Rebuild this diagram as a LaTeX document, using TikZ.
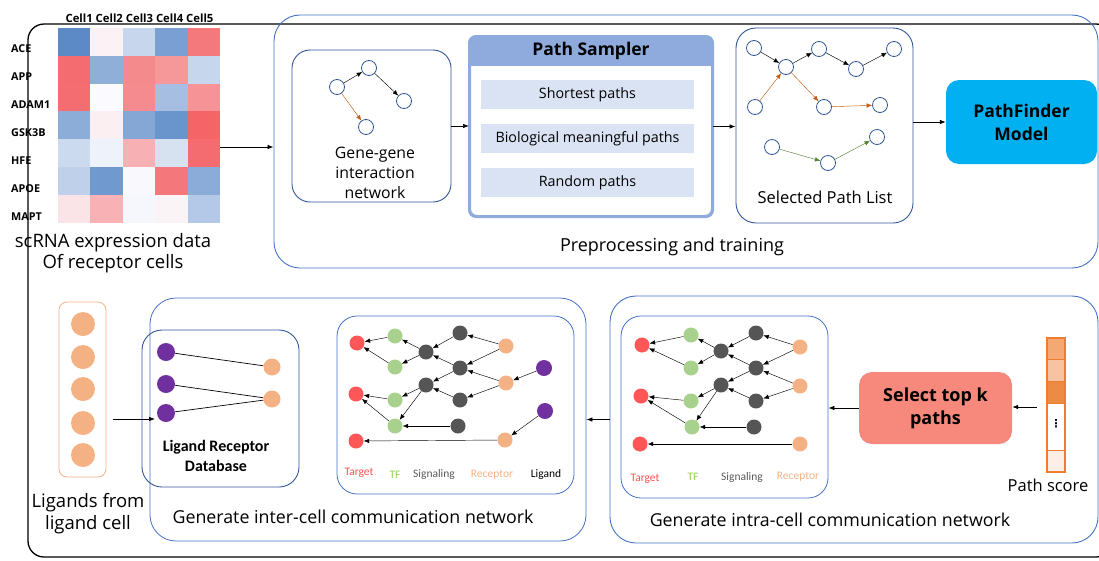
\documentclass[tikz,border=0pt]{standalone}
\usepackage{fontspec}
\setmainfont{Open Sans}
\newfontfamily\calib{Carlito}
\newfontfamily\dejavu{DejaVu Sans}
\usetikzlibrary{arrows.meta}
\newcommand\fsz[2]{\fontsize{#1}{#2}\selectfont}
\definecolor{bbox}{HTML}{4472C4}
\definecolor{dbox}{HTML}{2F5597}
\definecolor{psb}{HTML}{8FAADC}
\definecolor{psrow}{HTML}{DAE3F3}
\definecolor{pfc}{HTML}{00B0F0}
\definecolor{selc}{HTML}{F6897B}
\definecolor{orn}{HTML}{F4B183}
\definecolor{redn}{HTML}{FF5757}
\definecolor{grn}{HTML}{A9D18E}
\definecolor{gryn}{HTML}{555555}
\definecolor{purn}{HTML}{7030A0}
\definecolor{oedge}{HTML}{C55A11}
\definecolor{gedge}{HTML}{548235}
\definecolor{psc}{HTML}{ED7D31}
\definecolor{ps1}{HTML}{F4A873}
\definecolor{ps2}{HTML}{F7C3A0}
\definecolor{ps3}{HTML}{ED8B45}
\definecolor{ps5}{HTML}{FDEEE6}
\definecolor{redt}{HTML}{FF5050}
\definecolor{grnt}{HTML}{92D050}
\definecolor{grayt}{HTML}{595959}
\definecolor{ornt}{HTML}{F4B183}
\tikzset{
  arr/.style={-{Latex[length=6pt,width=4.5pt]}, line width=0.7pt},
  net/.style={-{Latex[length=5.5pt,width=4.5pt]}, line width=0.45pt},
  wnode/.style={circle, draw=dbox, fill=white, line width=0.8pt, minimum size=15pt, inner sep=0pt},
  nn/.style={circle, inner sep=0pt, minimum size=15pt},
  tgt/.style={nn, fill=redn},
  tf/.style={nn, fill=grn},
  sig/.style={nn, fill=gryn},
  rec/.style={nn, fill=orn},
  lgd/.style={nn, fill=purn, minimum size=16pt},
  rbox/.style={draw, inner sep=0pt},
  legend/.style={font=\calib\fsz{11.5}{13}},
  rowtxt/.style={fill=psrow, minimum width=213pt, minimum height=29pt, inner sep=0pt, font=\fsz{14.3}{16}},
}
\newcommand\netedges[1]{%
  \foreach \a/\b in {F1/T1,F2/T1,S2/F1,S2/F2,S1/S2,R1/S1,R1/S3,S3/S2,R2/S3,R2/S5,S3/S4,S5/S4,S4/F3,S4/F4,F3/T2,F4/T2,S6/F4,R3/T3}
    \draw[net] (#1\a) -- (#1\b);%
}
\begin{document}
\begin{tikzpicture}[x=1pt,y=-1pt]
\useasboundingbox (0,0) rectangle (1099,560);
\begin{scope}
\clip (0,0) rectangle (1099,560);
\draw[line width=1.3pt, rounded corners=16pt] (28,24) rectangle (1112,557);
\node[rbox, draw=bbox, line width=0.9pt, rounded corners=26pt, minimum width=824pt, minimum height=253pt] (prep) at (686,141.5) {};
\node[rbox, draw=bbox, line width=0.9pt, rounded corners=26pt, minimum width=488pt, minimum height=247pt] (iao) at (854,419.5) {};
\end{scope}

% heatmap
\foreach \c [count=\i from 0] in {5B8AC6,FCF1F4,C7D6EC,7AA0D3,F4797C,
  F46C70,8FAFD9,F58A8D,F6979A,C6D6EC,
  F46D71,FBFAFE,F58B8E,A5BEE1,F59396,
  8CADD8,FCEFF2,84A7D5,6A95CC,F56568,
  CBDAEE,EEF2FA,F7B1B4,D7E2F1,F46C70,
  BFD1EA,6F99CF,F8F8FD,F4777B,8BACD8,
  FBE4E8,F8B1B5,F6F7FD,FBF4F7,B4C9E7} {
  \pgfmathtruncatemacro\row{floor(\i/5)}
  \pgfmathtruncatemacro\col{mod(\i,5)}
  \definecolor{hc}{HTML}{\c}
  \fill[hc] (58+\col*32.4, 28+\row*27.8) rectangle ++(32.6,28);
}
\node[inner sep=0pt, minimum width=162pt, minimum height=195pt, anchor=north west] (heat) at (58,28) {};
\node[font=\bfseries\fsz{11.3}{13}] (cells) at (139.5,18) {Cell1 Cell2 Cell3 Cell4 Cell5};
\foreach \g [count=\i from 0] in {ACE,APP,ADAM1,GSK3B,HFE,APOE,MAPT}
  \node[anchor=west, inner sep=0pt, font=\bfseries\fsz{10.8}{13}] (g\i) at (11,49+28*\i) {\g};
\node[align=center, font=\fsz{18.5}{21}] (scrna) at (113,253.5) {scRNA expression data\\Of receptor cells};
\coordinate (hout) at (220,147);
\draw[arr] (hout) -- (hout -| prep.west);

% gene-gene box
\node[rbox, draw=dbox, line width=0.9pt, rounded corners=18pt, minimum width=159pt, minimum height=152pt] (gg) at (371.5,126) {};
\node[wnode] (ga) at (337,87) {};
\node[wnode] (gb) at (369,68) {};
\node[wnode] (gc) at (404,101) {};
\node[wnode] (gd) at (366,127) {};
\draw[net] (ga) -- (gb);
\draw[net] (gb) -- (gc);
\draw[net, draw=oedge, -{Latex[length=5.5pt,width=4.5pt,fill=oedge]}] (ga) -- (gd);
\node[align=center, font=\fsz{15.8}{20}] (ggl) at (375,173) {Gene-gene\\interaction\\network};

% path sampler
\node[rbox, draw=psb, line width=2pt, rounded corners=7pt, minimum width=242pt, minimum height=179pt, fill=white] (ps) at (591,126.5) {};
\begin{scope}
\clip[rounded corners=7pt] (ps.north west) rectangle (ps.south east);
\fill[psb] (ps.north west) rectangle (ps.east |- 0,66);
\end{scope}
\draw[psb, line width=2pt, rounded corners=7pt] (ps.north west) rectangle (ps.south east);
\node[font=\bfseries\fsz{17.5}{19}] (pst) at (591,51) {Path Sampler};
\node[rowtxt] (r1) at (587.5,94.5) {Shortest paths};
\node[rowtxt] (r2) at (587.5,138.5) {Biological meaningful paths};
\node[rowtxt] (r3) at (587.5,182.5) {Random paths};
\draw[arr] (gg.east) -- (gg.east -| ps.west);

% selected path list
\node[rbox, draw=dbox, line width=0.9pt, rounded corners=20pt, minimum width=177pt, minimum height=195pt] (sp) at (824.5,125.5) {};
\node[wnode] (sa) at (754,48) {};
\node[wnode] (sb) at (786,67) {};
\node[wnode] (sc) at (819,49) {};
\node[wnode] (sd) at (856,69) {};
\node[wnode] (se) at (894,49) {};
\node[wnode] (sf) at (755,107) {};
\node[wnode] (sg) at (824,107) {};
\node[wnode] (sh) at (880,105) {};
\node[wnode] (si) at (772,147) {};
\node[wnode] (sj) at (828,163) {};
\node[wnode] (sk) at (877,137) {};
\foreach \a/\b in {sa/sb,sb/sc,sc/sd,sd/se} \draw[net] (\a) -- (\b);
\foreach \a/\b in {sf/sb,sb/sg,sg/sh} \draw[net, draw=oedge, -{Latex[length=5.5pt,width=4.5pt,fill=oedge]}] (\a) -- (\b);
\foreach \a/\b in {si/sj,sj/sk} \draw[net, draw=gedge, -{Latex[length=5.5pt,width=4.5pt,fill=gedge]}] (\a) -- (\b);
\node[font=\fsz{16.5}{18}] (spl) at (825,197) {Selected Path List};
\draw[arr] (ps.east) -- (ps.east -| sp.west);

% pathfinder
\node[rbox, draw=none, fill=pfc, rounded corners=13pt, minimum width=151pt, minimum height=84pt, align=center, font=\bfseries\fsz{17.5}{23}] (pf) at (1021.5,122) {PathFinder\\Model};
\draw[arr] (sp.east |- pf.west) -- (pf.west);
\node[font=\fsz{18}{20}] (prepl) at (672,247) {Preprocessing and training};

% ligands
\node[rbox, draw=orn, line width=0.8pt, rounded corners=8pt, minimum width=47pt, minimum height=175pt] (lig) at (82.5,389.5) {};
\foreach \y [count=\i] in {324,357,389,423,455}
  \node[nn, fill=orn, minimum size=24pt] (l\i) at (83,\y) {};
\node[align=center, font=\fsz{18.5}{22}] (ligl) at (88,514) {Ligands from\\ligand cell};

% inter-cell
\node[rbox, draw=bbox, line width=0.8pt, rounded corners=26pt, minimum width=436pt, minimum height=243pt] (io) at (368,419.5) {};
\node[rbox, draw=dbox, line width=0.9pt, rounded corners=20pt, minimum width=157pt, minimum height=157pt] (lrd) at (220.5,408.5) {};
\node[lgd, minimum size=18pt] (p1) at (166,352) {};
\node[lgd, minimum size=18pt] (p2) at (166,384) {};
\node[lgd, minimum size=18pt] (p3) at (166,413) {};
\node[nn, fill=orn, minimum size=17pt] (o1) at (272,367) {};
\node[nn, fill=orn, minimum size=17pt] (o2) at (272,399) {};
\draw[line width=0.7pt] (p1) -- (o1) (p2) -- (o2) (p3) -- (o2);
\node[align=center, font=\calib\bfseries\fsz{16}{20}] (lrdl) at (216,456) {Ligand Receptor\\Database};
\coordinate (la) at (113,419);
\coordinate (lb) at (155,419);
\draw[arr] (la) -- (lb);

\node[rbox, draw=bbox, line width=0.8pt, rounded corners=20pt, minimum width=237pt, minimum height=178pt] (inet) at (455.5,405) {};
\node[tgt] (iT1) at (357,343) {};
\node[tgt] (iT2) at (356,394) {};
\node[tgt] (iT3) at (356,441) {};
\node[tf] (iF1) at (395,336) {};
\node[tf] (iF2) at (395,367) {};
\node[tf] (iF3) at (395,400) {};
\node[tf] (iF4) at (395,426) {};
\node[sig] (iS1) at (460,333) {};
\node[sig] (iS2) at (426,352) {};
\node[sig] (iS3) at (460,368) {};
\node[sig] (iS4) at (426,385) {};
\node[sig] (iS5) at (460,400) {};
\node[sig] (iS6) at (458,426) {};
\node[rec] (iR1) at (506,346) {};
\node[rec] (iR2) at (506,383) {};
\node[rec] (iR3) at (505,440) {};
\node[lgd] (iL1) at (544,368) {};
\node[lgd] (iL2) at (545,411) {};
\netedges{i}
\draw[net] (iL1) -- (iR2);
\draw[net] (iL2) -- (iR3);
\node[legend, text=redt] (ilt) at (359,473) {Target};
\node[legend, text=grnt] (ilf) at (395,475) {TF};
\node[legend, text=grayt] (ils) at (434,474) {Signaling};
\node[legend, text=ornt] (ilr) at (492,475) {Receptor};
\node[legend, text=black] (ill) at (546,474) {Ligand};
\node[font=\fsz{17.8}{20}] (iol) at (353,517) {Generate inter-cell communication network};

% intra-cell
\draw[arr] (iao.west) -- (io.east);
\node[rbox, draw=bbox, line width=0.8pt, rounded corners=20pt, minimum width=207pt, minimum height=182pt] (anet) at (724.5,407) {};
\node[tgt] (aT1) at (642,345) {};
\node[tgt] (aT2) at (641,396) {};
\node[tgt] (aT3) at (640,444) {};
\node[tf] (aF1) at (691,335) {};
\node[tf] (aF2) at (691,368) {};
\node[tf] (aF3) at (691,401) {};
\node[tf] (aF4) at (692,427) {};
\node[sig] (aS1) at (756,333) {};
\node[sig] (aS2) at (721,351) {};
\node[sig] (aS3) at (756,368) {};
\node[sig] (aS4) at (721,385) {};
\node[sig] (aS5) at (756,401) {};
\node[sig] (aS6) at (754,427) {};
\node[rec] (aR1) at (800,347) {};
\node[rec] (aR2) at (800,386) {};
\node[rec] (aR3) at (800,444) {};
\netedges{a}
\node[legend, text=redt] (alt) at (645,479) {Target};
\node[legend, text=grnt] (alf) at (693,477) {TF};
\node[legend, text=grayt] (als) at (742,477) {Signaling};
\node[legend, text=ornt] (alr) at (798,477) {Receptor};
\node[font=\fsz{17.8}{20}] (iaol) at (830,520) {Generate intra-cell communication network};

\node[rbox, draw=none, fill=selc, rounded corners=13pt, minimum width=153pt, minimum height=72pt, align=center, font=\bfseries\fsz{18}{23}] (sel) at (935.5,408) {Select top k\\paths};
\draw[arr] (sel.west) -- (sel.west -| anet.east);

% path score
\fill[ps1] (1047,338) rectangle (1065,359);
\fill[ps2] (1047,359) rectangle (1065,381);
\fill[ps3] (1047,381) rectangle (1065,403);
\fill[white] (1047,403) rectangle (1065,450);
\fill[ps5] (1047,450) rectangle (1065,472);
\foreach \y in {359,381,403,450} \draw[psc, line width=1pt] (1047,\y) -- (1065,\y);
\draw[psc, line width=1.2pt] (1047,338) rectangle (1065,472);
\node[inner sep=0pt, minimum width=18pt, minimum height=134pt] (pscore) at (1056,405) {};
\node[font=\dejavu\bfseries\fsz{11}{12}, inner sep=0pt] (dots) at (1056,424) {⋮};
\node[font=\fsz{16.5}{18}] (psl) at (1048,485) {Path score};
\coordinate (pa) at (1037,407);
\draw[arr] (pa) -- (pa -| sel.east);
\end{tikzpicture}
\end{document}
